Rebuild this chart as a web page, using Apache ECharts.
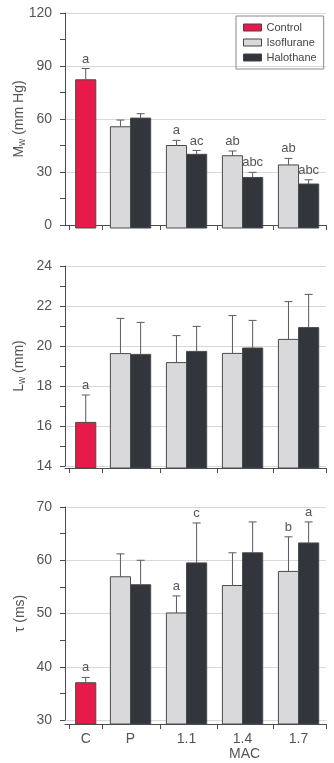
<!DOCTYPE html>
<html><head><meta charset="utf-8">
<script src="https://cdn.jsdelivr.net/npm/echarts@6/dist/echarts.min.js"></script>
<style>html,body{margin:0;padding:0;background:#fff}#c{width:334px;height:763px}</style>
</head><body><div id="c"></div>
<script>
// ---- data ----
const categories = ['C', 'P', '1.1', '1.4', '1.7'];
const seriesNames = ['Control', 'Isoflurane', 'Halothane'];

// Panel 1: Mw (mm Hg)
const mwControl = [82.2];
const mwControlErr = [88.6];
const mwControlLab = ['a'];
const mwIso = [55.6, 45.0, 39.2, 34.0];
const mwIsoErr = [59.4, 47.9, 41.9, 37.7];
const mwIsoLab = ['', 'a', 'ab', 'ab'];
const mwHalo = [60.5, 40.0, 26.9, 23.2];
const mwHaloErr = [63.0, 42.2, 29.8, 25.6];
const mwHaloLab = ['', 'ac', 'abc', 'abc'];
const mwTicks = [0, 30, 60, 90, 120];

// Panel 2: Lw (mm)
const lwControl = [16.18];
const lwControlErr = [17.55];
const lwControlLab = ['a'];
const lwIso = [19.62, 19.17, 19.63, 20.33];
const lwIsoErr = [21.38, 20.52, 21.52, 22.22];
const lwIsoLab = ['', '', '', ''];
const lwHalo = [19.58, 19.73, 19.9, 20.92];
const lwHaloErr = [21.18, 20.98, 21.28, 22.58];
const lwHaloLab = ['', '', '', ''];
const lwTicks = [14, 16, 18, 20, 22, 24];

// Panel 3: tau (ms)
const tauControl = [37.0];
const tauControlErr = [38.0];
const tauControlLab = ['a'];
const tauIso = [56.9, 50.1, 55.25, 57.9];
const tauIsoErr = [61.2, 53.3, 61.4, 64.4];
const tauIsoLab = ['', 'a', '', 'b'];
const tauHalo = [55.4, 59.5, 61.4, 63.25];
const tauHaloErr = [60.0, 67.0, 67.2, 67.2];
const tauHaloLab = ['', 'c', '', 'a'];
const tauTicks = [30, 40, 50, 60, 70];

// ---- layout (axis units for the x value axis) ----
const catX = [1.2, 2, 3, 4, 5];
const xMin = 0.83, xMax = 5.49;
const sepX = [0.90, 1.49, 2.53, 3.54, 4.54, 5.49];
const barW = 0.36;

const colors = { Control: '#e8194b', Isoflurane: '#d9d9db', Halothane: '#32353c' };
const axisColor = '#4d4d4d';
const textColor = '#555';
const FONT = '"Liberation Sans", Arial, sans-serif';

function makeRender(offset, labels, axisOff) {
  return function (params, api) {
    const x = api.value(0) + offset;
    const m = api.value(1), e = api.value(2);
    const cs = params.coordSys;
    const base = cs.y + cs.height + axisOff;
    const top = api.coord([x, m]);
    const eTop = api.coord([x, e]);
    const w = api.size([barW, 0])[0];
    const children = [
      { type: 'rect', shape: { x: top[0] - w / 2, y: top[1], width: w, height: base - top[1] },
        style: { fill: api.visual('color'), stroke: '#4a4a4a', lineWidth: 1 } },
      { type: 'line', shape: { x1: top[0], y1: top[1], x2: top[0], y2: eTop[1] },
        style: { stroke: '#5a5a5a', lineWidth: 1 } },
      { type: 'line', shape: { x1: top[0] - 4, y1: eTop[1], x2: top[0] + 4, y2: eTop[1] },
        style: { stroke: '#5a5a5a', lineWidth: 1 } }
    ];
    const lab = labels[params.dataIndex];
    if (lab) children.push({ type: 'text', x: top[0], y: eTop[1] - 3,
      style: { text: lab, align: 'center', verticalAlign: 'bottom', fill: textColor, fontSize: 13, fontFamily: FONT } });
    return { type: 'group', children };
  };
}

const panels = [
  { ctrl: mwControl, ctrlE: mwControlErr, ctrlL: mwControlLab, iso: mwIso, isoE: mwIsoErr, isoL: mwIsoLab,
    halo: mwHalo, haloE: mwHaloErr, haloL: mwHaloLab, ticks: mwTicks, top: 13, height: 212, axisOff: 3,
    name: 'M{s|w} (mm Hg)' },
  { ctrl: lwControl, ctrlE: lwControlErr, ctrlL: lwControlLab, iso: lwIso, isoE: lwIsoErr, isoL: lwIsoLab,
    halo: lwHalo, haloE: lwHaloErr, haloL: lwHaloLab, ticks: lwTicks, top: 266, height: 200, axisOff: 2,
    name: 'L{s|w} (mm)' },
  { ctrl: tauControl, ctrlE: tauControlErr, ctrlL: tauControlLab, iso: tauIso, isoE: tauIsoErr, isoL: tauIsoLab,
    halo: tauHalo, haloE: tauHaloErr, haloL: tauHaloLab, ticks: tauTicks, top: 507, height: 213, axisOff: 4,
    name: 'τ (ms)' }
];

const grid = [], xAxis = [], yAxis = [], series = [];
panels.forEach((p, i) => {
  grid.push({ left: 65, right: 8, top: p.top, height: p.height, containLabel: false, outerBoundsMode: 'none' });
  const t = p.ticks;
  xAxis.push({
    type: 'value', gridIndex: i, min: xMin, max: xMax, offset: p.axisOff,
    axisLine: { show: true, lineStyle: { color: axisColor, width: 1 } },
    axisTick: { show: true, length: 5, customValues: sepX, lineStyle: { color: axisColor } },
    axisLabel: { show: i === 2, customValues: catX, margin: 8, color: textColor, fontSize: 14, fontFamily: FONT,
      formatter: v => { const k = catX.findIndex(c => Math.abs(c - v) < 1e-6); return k >= 0 ? categories[k] : ''; } },
    splitLine: { show: false }
  });
  yAxis.push({
    type: 'value', gridIndex: i, min: t[0], max: t[t.length - 1], interval: t[1] - t[0],
    name: p.name, nameLocation: 'middle', nameGap: 38, nameMoveOverlap: false,
    nameTextStyle: { color: textColor, fontSize: 14, fontFamily: FONT,
      rich: { s: { fontSize: 10, color: textColor, fontFamily: FONT, padding: [6, 0, 0, 0] } } },
    axisLine: { show: true, lineStyle: { color: axisColor, width: 1 } },
    axisTick: { show: true, length: 5, lineStyle: { color: axisColor } },
    minorTick: { show: true, splitNumber: 2, length: 5, lineStyle: { color: axisColor } },
    axisLabel: { margin: 13, color: textColor, fontSize: 14, fontFamily: FONT },
    splitLine: { show: true, lineStyle: { color: '#d8d8d8', width: 1 } }
  });
  series.push({
    type: 'custom', name: 'Control', xAxisIndex: i, yAxisIndex: i,
    itemStyle: { color: colors.Control },
    encode: { x: 0, y: [1, 2] },
    renderItem: makeRender(0, p.ctrlL, p.axisOff),
    data: p.ctrl.map((v, k) => [catX[0], v, p.ctrlE[k]])
  });
  series.push({
    type: 'custom', name: 'Isoflurane', xAxisIndex: i, yAxisIndex: i,
    itemStyle: { color: colors.Isoflurane },
    encode: { x: 0, y: [1, 2] },
    renderItem: makeRender(-barW / 2, p.isoL, p.axisOff),
    data: p.iso.map((v, k) => [catX[k + 1], v, p.isoE[k]])
  });
  series.push({
    type: 'custom', name: 'Halothane', xAxisIndex: i, yAxisIndex: i,
    itemStyle: { color: colors.Halothane },
    encode: { x: 0, y: [1, 2] },
    renderItem: makeRender(barW / 2, p.haloL, p.axisOff),
    data: p.halo.map((v, k) => [catX[k + 1], v, p.haloE[k]])
  });
});

const chart = echarts.init(document.getElementById('c'), null, { renderer: 'canvas' });
chart.setOption({
  animation: false,
  backgroundColor: '#fff',
  grid, xAxis, yAxis, series,
  legend: {
    left: 236, top: 16, orient: 'vertical',
    padding: [6, 7, 6, 7], itemGap: 4, itemWidth: 18, itemHeight: 7,
    borderColor: '#8a8a8a', borderWidth: 1,
    icon: 'rect',
    textStyle: { color: '#444', fontSize: 11, fontFamily: FONT, lineHeight: 11 },
    data: seriesNames.map(n => ({ name: n, itemStyle: { color: colors[n], borderColor: '#444', borderWidth: 1 } }))
  },
  graphic: [{ type: 'text', left: 229, top: 747, style: { text: 'MAC', fill: textColor, fontSize: 14, fontFamily: FONT } }]
});
</script>
</body></html>
